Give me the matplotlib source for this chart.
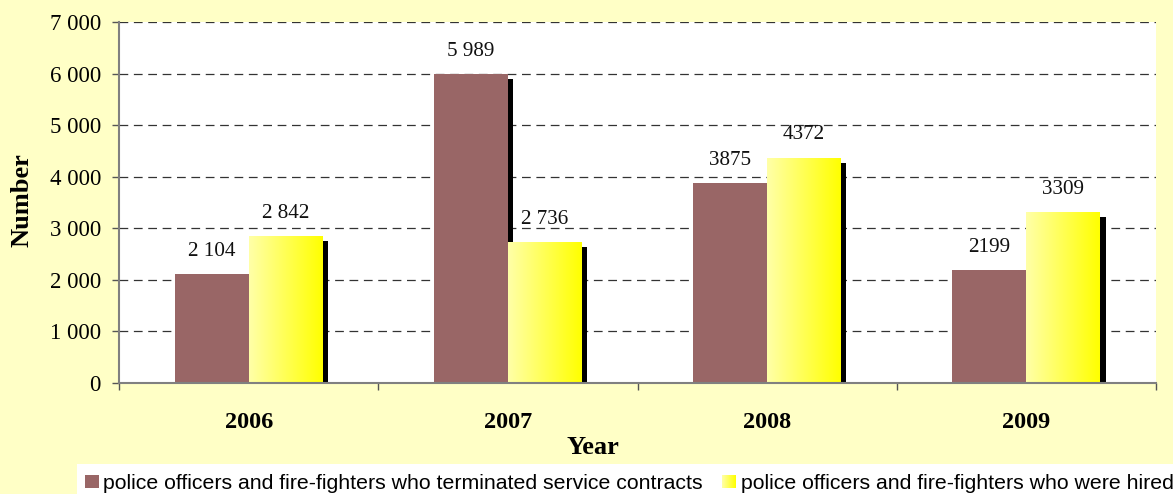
import matplotlib
matplotlib.use("Agg")
import matplotlib.pyplot as plt
import numpy as np
from matplotlib.patches import Rectangle
from matplotlib.colors import LinearSegmentedColormap

# Data
years = ["2006", "2007", "2008", "2009"]
terminated = [2104, 5989, 3875, 2199]
hired = [2842, 2736, 4372, 3309]
grouped_labels = [True, True, False, False]  # thousands separator used in the label
series_names = [
    "police officers and fire-fighters who terminated service contracts",
    "police officers and fire-fighters who were hired",
]
y_ticks = [0, 1000, 2000, 3000, 4000, 5000, 6000, 7000]

BG = "#FFFFC6"
BROWN = "#996666"
yellow_cmap = LinearSegmentedColormap.from_list("yel", ["#FFFFA8", "#FFFF00"])

W, H, DPI = 1173, 494, 100
fig = plt.figure(figsize=(W / DPI, H / DPI), dpi=DPI, facecolor=BG)
ax = fig.add_axes([119 / W, 1 - 383 / H, (1156 - 119) / W, (383 - 22) / H])
ax.set_facecolor("white")

serif = "Liberation Serif"
sans = "Liberation Sans"


def fmt(v, grouped):
    return f"{v:,}".replace(",", " ") if grouped else str(v)


x = np.arange(len(years))
bw = 0.285
# shadow offsets (data units)
dx_sh = 5.3 / (1156 - 119) * 4
dy_sh = 5 / (383 - 22) * 7000

for i in range(len(years)):
    for off, val in ((-bw / 2, terminated[i]), (bw / 2, hired[i])):
        x0 = x[i] + off - bw / 2
        # drop shadow
        ax.add_patch(Rectangle((x0 + dx_sh, 0), bw, val - dy_sh, facecolor="black",
                               edgecolor="none", zorder=2))
    for off, val, kind in ((-bw / 2, terminated[i], "t"), (bw / 2, hired[i], "h")):
        x0 = x[i] + off - bw / 2
        if kind == "t":
            ax.add_patch(Rectangle((x0, 0), bw, val, facecolor=BROWN, edgecolor="none", zorder=3))
        else:
            rect = Rectangle((x0, 0), bw, val, facecolor="none", edgecolor="none", zorder=3)
            ax.add_patch(rect)
            grad = np.linspace(0, 1, 256).reshape(1, -1)
            im = ax.imshow(grad, cmap=yellow_cmap, aspect="auto",
                           extent=(x0, x0 + bw, 0, val), zorder=3, interpolation="bilinear")
            im.set_clip_path(rect)
        ax.annotate(fmt(val, grouped_labels[i]), (x[i] + off, val), xytext=(0, 13),
                    textcoords="offset points", ha="center", va="baseline",
                    fontsize=15.2, family=serif, color="#111111", zorder=5)

ax.set_xlim(-0.5, 3.5)
ax.set_ylim(0, 7000)
ax.set_yticks(y_ticks)
ax.set_yticklabels([fmt(v, True) for v in y_ticks], family=serif, fontsize=16.5)
ax.set_xticks(x)
ax.set_xticklabels(years, family=serif, fontsize=17.5, fontweight="bold")
ax.set_xticks(np.arange(-0.5, 4.0, 1.0), minor=True)
ax.tick_params(axis="x", which="major", length=0, pad=21)
ax.tick_params(axis="x", which="minor", length=5, width=1, color="#555555", direction="out")
ax.tick_params(axis="y", length=5, width=1, color="#555555", direction="out", pad=8)

ax.yaxis.grid(True, linestyle=(0, (7, 4.5)), color="#333333", linewidth=0.9, zorder=1)
ax.set_axisbelow(True)
for s in ("top", "right"):
    ax.spines[s].set_visible(False)
for s in ("left", "bottom"):
    ax.spines[s].set_color("#808080")
    ax.spines[s].set_linewidth(1.5)
    ax.spines[s].set_zorder(4)

fig.text(593 / W, 1 - 447 / H, "Year", ha="center", va="center", family=serif,
         fontsize=19, fontweight="bold")
fig.text(22 / W, 1 - 200 / H, "Number", ha="center", va="center", rotation=90,
         family=serif, fontsize=19, fontweight="bold")

# legend strip
fig.patches.append(Rectangle((77 / W, 0), 1 - 77 / W, 30 / H, transform=fig.transFigure,
                             facecolor="white", edgecolor="none", zorder=1))
fig.patches.append(Rectangle((85 / W, 6 / H), 14 / W, 13 / H, transform=fig.transFigure,
                             facecolor=BROWN, edgecolor="none", zorder=2))
lax = fig.add_axes([722 / W, 6 / H, 14 / W, 13 / H], zorder=5)
lax.imshow(np.linspace(0, 1, 64).reshape(1, -1), cmap=yellow_cmap, aspect="auto")
lax.axis("off")
fig.text(103 / W, 11 / H, series_names[0], ha="left", va="center", family=sans, fontsize=15.3)
fig.text(741 / W, 11 / H, series_names[1], ha="left", va="center", family=sans, fontsize=15.3)

fig.savefig("out.png", dpi=DPI, facecolor=BG)
